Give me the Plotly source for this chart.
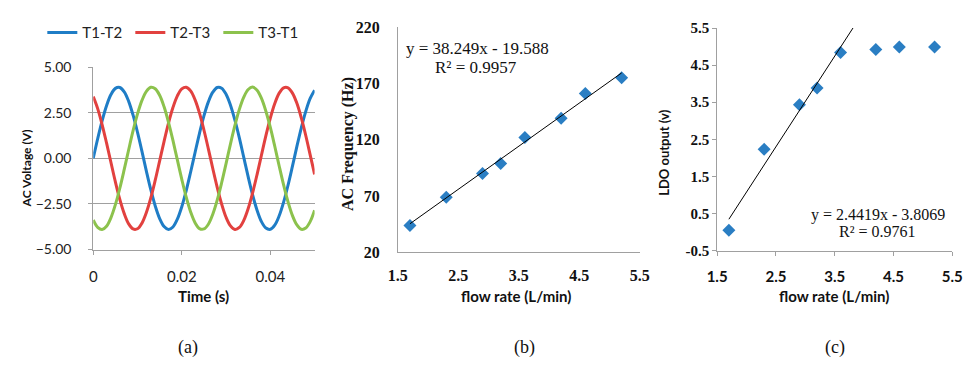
import plotly.graph_objects as go

# ---------------- data ----------------
time_s = [0.000, 0.001, 0.002, 0.003, 0.004, 0.005, 0.006, 0.007, 0.008, 0.009,
          0.010, 0.011, 0.012, 0.013, 0.014, 0.015, 0.016, 0.017, 0.018, 0.019,
          0.020, 0.021, 0.022, 0.023, 0.024, 0.025, 0.026, 0.027, 0.028, 0.029,
          0.030, 0.031, 0.032, 0.033, 0.034, 0.035, 0.036, 0.037, 0.038, 0.039,
          0.040, 0.041, 0.042, 0.043, 0.044, 0.045, 0.046, 0.047, 0.048, 0.049,
          0.050]
v_t1_t2 = [0.00, 1.07, 2.05, 2.88, 3.49, 3.83, 3.88, 3.64, 3.12, 2.36,
           1.42, 0.38, -0.70, -1.72, -2.61, -3.30, -3.74, -3.90, -3.76, -3.33,
           -2.65, -1.77, -0.75, 0.32, 1.37, 2.32, 3.09, 3.62, 3.88, 3.84,
           3.51, 2.91, 2.09, 1.12, 0.05, -1.02, -2.01, -2.84, -3.47, -3.82,
           -3.89, -3.66, -3.15, -2.40, -1.47, -0.43, 0.65, 1.67, 2.57, 3.28,
           3.73]
v_t2_t3 = [3.38, 2.72, 1.85, 0.84, -0.23, -1.29, -2.25, -3.03, -3.59, -3.87,
           -3.86, -3.55, -2.97, -2.17, -1.20, -0.14, 0.93, 1.93, 2.78, 3.42,
           3.80, 3.89, 3.69, 3.20, 2.47, 1.55, 0.52, -0.56, -1.59, -2.50,
           -3.23, -3.70, -3.90, -3.79, -3.40, -2.75, -1.89, -0.89, 0.18, 1.24,
           2.20, 3.00, 3.57, 3.86, 3.86, 3.57, 3.01, 2.21, 1.25, 0.19,
           -0.88]
v_t3_t1 = [-3.38, -3.78, -3.90, -3.72, -3.25, -2.54, -1.64, -0.61, 0.47, 1.51,
           2.43, 3.17, 3.67, 3.89, 3.81, 3.45, 2.82, 1.97, 0.98, -0.09,
           -1.15, -2.13, -2.94, -3.53, -3.85, -3.87, -3.61, -3.06, -2.29, -1.34,
           -0.29, 0.79, 1.80, 2.68, 3.35, 3.77, 3.90, 3.73, 3.28, 2.58,
           1.69, 0.66, -0.42, -1.46, -2.39, -3.14, -3.65, -3.89, -3.82, -3.47,
           -2.85]
series_names = ["T1-T2", "T2-T3", "T3-T1"]

flow_rate = [1.7, 2.3, 2.9, 3.2, 3.6, 4.2, 4.6, 5.2]
ac_freq = [44, 69, 90, 99, 122, 139, 161, 175]
ldo_out = [0.05, 2.23, 3.43, 3.88, 4.84, 4.92, 4.99, 4.99]

freq_slope, freq_icpt, freq_r2 = 38.249, -19.588, 0.9957
ldo_slope, ldo_icpt, ldo_r2 = 2.4419, -3.8069, 0.9761

a_xticks = [0, 0.02, 0.04]
a_xticktext = ["0", "0.02", "0.04"]
a_yticks = [-5, -2.5, 0, 2.5, 5]
bc_xticks = [1.5, 2.5, 3.5, 4.5, 5.5]
b_yticks = [20, 70, 120, 170, 220]
c_yticks = [-0.5, 0.5, 1.5, 2.5, 3.5, 4.5, 5.5]

# ---------------- styling ----------------
W, H = 972, 367
line_colors = ["#1F7DC6", "#E2413F", "#8CC24D"]
marker_color = "#2A7EC3"
axis_gray = "#A0A0A0"
sans = "Lato"
serif = "Liberation Serif"


def px_x(p):
    return p / W


def px_y(p):
    return 1 - p / H


def bold_labels(vals, fmt):
    return ["<b>" + format(v, fmt) + "</b>" for v in vals]


fig = go.Figure()

for name, vals, col in zip(series_names, [v_t1_t2, v_t2_t3, v_t3_t1], line_colors):
    fig.add_trace(go.Scatter(x=time_s, y=vals, mode="lines", name=name,
                             line=dict(color=col, width=3, shape="spline"),
                             xaxis="x", yaxis="y"))

# panel b
fig.add_trace(go.Scatter(x=flow_rate, y=ac_freq, mode="markers", showlegend=False,
                         marker=dict(symbol="diamond", size=10, color=marker_color),
                         xaxis="x2", yaxis="y2"))
bx = [min(flow_rate), max(flow_rate)]
fig.add_trace(go.Scatter(x=bx, y=[freq_slope * v + freq_icpt for v in bx], mode="lines",
                         showlegend=False, line=dict(color="black", width=1),
                         xaxis="x2", yaxis="y2"))
# panel c
fig.add_trace(go.Scatter(x=flow_rate, y=ldo_out, mode="markers", showlegend=False,
                         marker=dict(symbol="diamond", size=10, color=marker_color),
                         xaxis="x3", yaxis="y3"))
fig.add_trace(go.Scatter(x=bx, y=[ldo_slope * v + ldo_icpt for v in bx], mode="lines",
                         showlegend=False, line=dict(color="black", width=1),
                         xaxis="x3", yaxis="y3"))

common_axis = dict(showline=True, linecolor=axis_gray, linewidth=1, zeroline=False,
                   showgrid=False, ticks="outside", tickcolor=axis_gray, ticklen=4)

serif_bold = dict(family=serif, size=16, color="#111", weight="bold")
sans_bold = dict(family=sans, size=15, color="#111", weight="bold")

fig.update_layout(
    width=W, height=H, margin=dict(l=0, r=0, t=0, b=0),
    paper_bgcolor="white", plot_bgcolor="white",
    showlegend=True,
    legend=dict(orientation="h", x=px_x(33), y=px_y(25), yanchor="middle", xanchor="left",
                font=dict(family=sans, size=15, color="#222"), entrywidth=43,
                bgcolor="rgba(0,0,0,0)", itemclick=False),
    xaxis=dict(common_axis, domain=[px_x(85), px_x(311)], range=[0, 0.05],
               tickvals=a_xticks, ticktext=a_xticktext, anchor="y",
               tickfont=dict(family=sans, size=15, color="#222"), ticklabelstandoff=9),
    yaxis=dict(common_axis, domain=[px_y(253), px_y(61)], range=[-5, 5],
               tickvals=a_yticks, tickformat=".2f", showgrid=True, gridcolor=axis_gray,
               anchor="x", tickfont=dict(family=sans, size=14, color="#222"),
               ticklabelstandoff=14),
    xaxis2=dict(common_axis, domain=[px_x(396), px_x(643)], range=[1.5, 5.5],
                tickvals=bc_xticks, ticktext=bold_labels(bc_xticks, ".1f"), anchor="y2",
                ticks="", tickfont=dict(family=serif, size=16, color="#111"),
                ticklabelstandoff=8),
    yaxis2=dict(common_axis, domain=[px_y(256), px_y(19)], range=[20, 220],
                tickvals=b_yticks, ticktext=bold_labels(b_yticks, "d"), anchor="x2",
                ticks="", tickfont=dict(family=serif, size=16, color="#111"),
                ticklabelstandoff=14),
    xaxis3=dict(common_axis, domain=[px_x(722), px_x(962)], range=[1.5, 5.5],
                tickvals=bc_xticks, ticktext=bold_labels(bc_xticks, ".1f"), anchor="y3",
                tickfont=dict(family=sans, size=15, color="#111"), ticklabelstandoff=8),
    yaxis3=dict(common_axis, domain=[px_y(254), px_y(20)], range=[-0.5, 5.5],
                tickvals=c_yticks, ticktext=bold_labels(c_yticks, ".1f"), anchor="x3",
                tickfont=dict(family=serif, size=15, color="#111"), ticklabelstandoff=0),
)

ann = []


def add_text(x, y, text, font, angle=0):
    ann.append(dict(x=px_x(x), y=px_y(y), xref="paper", yref="paper", text=text,
                    showarrow=False, xanchor="center", yanchor="middle",
                    textangle=angle, font=font))


add_text(17, 168, "AC Voltage (V)", dict(sans_bold, size=12), angle=-90)
add_text(198, 302, "Time (s)", sans_bold)
add_text(345, 142, "AC Frequency (Hz)", serif_bold, angle=-90)
add_text(517, 302, "flow rate (L/min)", sans_bold)
add_text(667, 151, "LDO output (v)", dict(sans_bold, size=13), angle=-90)
add_text(841, 302, "flow rate (L/min)", sans_bold)

eq_font = dict(family=serif, size=17, color="#111")
add_text(477, 42, f"y = {freq_slope}x - {abs(freq_icpt)}", eq_font)
add_text(476, 61, f"R² = {freq_r2}", eq_font)
add_text(886, 217, f"y = {ldo_slope}x - {abs(ldo_icpt)}", dict(eq_font, size=16))
add_text(886, 234, f"R² = {ldo_r2}", dict(eq_font, size=16))

cap_font = dict(family=serif, size=18, color="#111")
add_text(182, 356, "(a)", cap_font)
add_text(525, 356, "(b)", cap_font)
add_text(842, 356, "(c)", cap_font)

fig.update_layout(annotations=ann)
fig.write_html("out.html")
